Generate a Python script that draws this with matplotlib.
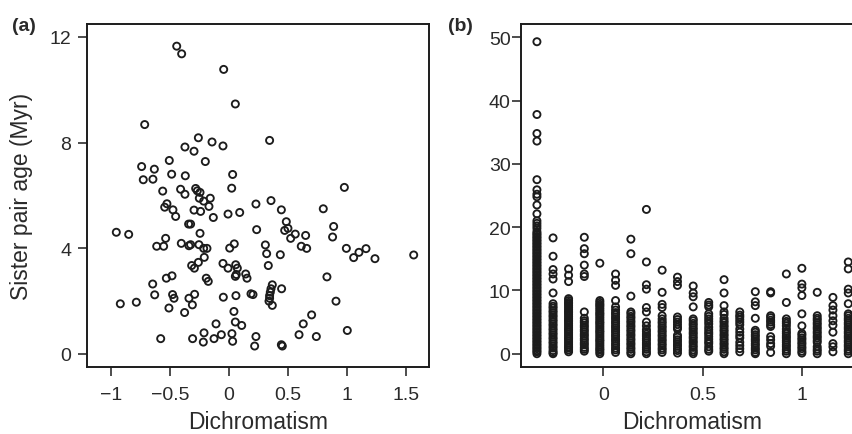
import matplotlib
matplotlib.use("Agg")
import matplotlib.pyplot as plt

plt.rcParams['font.family'] = ['Liberation Sans', 'DejaVu Sans']

# ---------------- Panel (a) data ----------------
a_x = [-0.444, -0.402, -0.045, 0.054, -0.716, -0.260, -0.144, -0.374, -0.051, -0.297,
       0.345, -0.201, -0.507, -0.742, -0.634, -0.728, -0.646, -0.487, -0.371, 0.031,
       0.023, -0.563, -0.411, -0.374, -0.283, -0.269, -0.246, -0.252, -0.159, -0.215,
       -0.170, -0.527, -0.546, -0.476, -0.453, -0.297, -0.241, -0.133, -0.008, 0.091,
       0.229, 0.357, 0.445, 0.487, 0.501, 0.473, 0.563, 0.524, 0.651, 0.235,
       0.980, 0.801, 0.889, 0.880, -0.957, -0.852, -0.538, -0.614, -0.555, -0.405,
       -0.340, -0.326, -0.255, -0.246, -0.343, -0.326, -0.215, -0.187, -0.210, 0.045,
       0.006, 0.309, 0.320, 0.436, 0.614, 0.660, 0.997, 1.059, 1.104, 1.164,
       1.240, 1.569, -0.260, -0.317, -0.294, -0.051, -0.008, 0.057, 0.071, 0.062,
       0.054, 0.142, 0.153, 0.334, 0.832, -0.532, -0.484, -0.193, -0.176, -0.648,
       -0.631, -0.479, -0.467, -0.292, -0.340, -0.311, -0.510, -0.377, -0.923, -0.787,
       -0.048, 0.059, 0.187, 0.204, 0.368, 0.357, 0.351, 0.345, 0.345, 0.340,
       0.368, 0.447, 0.909, 0.042, 0.702, -0.110, 0.054, 0.108, 0.631, 1.005,
       -0.212, -0.218, -0.309, -0.580, -0.127, -0.065, 0.025, 0.031, 0.229, 0.218,
       0.445, 0.453, 0.595, 0.742]
a_y = [11.65, 11.36, 10.77, 9.46, 8.68, 8.18, 8.02, 7.83, 7.87, 7.67,
       8.08, 7.28, 7.32, 7.09, 6.99, 6.59, 6.61, 6.80, 6.74, 6.79,
       6.27, 6.16, 6.23, 6.04, 6.26, 6.17, 6.11, 5.89, 5.89, 5.78,
       5.58, 5.68, 5.55, 5.45, 5.20, 5.44, 5.39, 5.16, 5.29, 5.35,
       5.67, 5.80, 5.45, 5.00, 4.75, 4.67, 4.53, 4.37, 4.48, 4.70,
       6.30, 5.49, 4.82, 4.42, 4.60, 4.52, 4.37, 4.07, 4.07, 4.18,
       4.09, 4.13, 4.13, 4.56, 4.91, 4.91, 3.99, 3.99, 3.65, 4.16,
       4.00, 4.12, 3.79, 3.75, 4.07, 3.99, 3.99, 3.64, 3.84, 3.98,
       3.60, 3.74, 3.46, 3.34, 3.24, 3.42, 3.24, 3.37, 3.24, 3.00,
       2.93, 3.02, 2.86, 3.34, 2.91, 2.86, 2.95, 2.86, 2.74, 2.64,
       2.23, 2.24, 2.10, 2.25, 2.10, 1.85, 1.73, 1.56, 1.89, 1.95,
       2.14, 2.20, 2.27, 2.24, 2.61, 2.46, 2.33, 2.20, 2.10, 1.99,
       1.83, 2.46, 1.99, 1.60, 1.47, 1.13, 1.20, 1.07, 1.13, 0.88,
       0.79, 0.44, 0.57, 0.57, 0.57, 0.72, 0.76, 0.47, 0.65, 0.29,
       0.34, 0.29, 0.72, 0.65]

# ---------------- Panel (b) data ----------------
b_cols = [-0.333, -0.252, -0.174, -0.095, -0.017, 0.062, 0.139, 0.217, 0.296, 0.373,
          0.452, 0.530, 0.607, 0.686, 0.764, 0.841, 0.920, 0.998, 1.075, 1.154, 1.231]
b_col01 = [49.3, 37.8, 34.8, 33.6, 27.5, 25.9, 25.2, 24.8, 23.5, 22.1, 21.0, 20.6,
           20.2, 19.8,
           19.3, 19.0, 18.8, 18.5, 18.3, 18.0, 17.8, 17.5, 17.3, 17.0, 16.8, 16.5,
           16.3, 16.0, 15.8, 15.5, 15.3, 15.0, 14.8, 14.5, 14.3, 14.0, 13.8, 13.5,
           13.3, 13.0, 12.8, 12.5, 12.3, 12.0, 11.8, 11.5, 11.3, 11.0, 10.8, 10.5,
           10.3, 10.0, 9.8, 9.5, 9.3, 9.0, 8.8, 8.5, 8.3, 8.0, 7.8, 7.5, 7.3, 7.0,
           6.8, 6.5, 6.3, 6.0, 5.8, 5.5, 5.3, 5.0, 4.8, 4.5, 4.3, 4.0, 3.8, 3.5,
           3.3, 3.0, 2.8, 2.5, 2.3, 2.0, 1.8, 1.5, 1.3, 1.0, 0.8, 0.5, 0.3, 0.0]
b_col02 = [18.3, 15.4, 13.3, 12.6, 11.8, 9.6,
           7.9, 7.5, 7.2, 6.8, 6.5, 6.1, 5.8, 5.4, 5.1, 4.7, 4.4, 4.0, 3.7, 3.3,
           3.0, 2.6, 2.3, 1.9, 1.6, 1.2, 0.9, 0.5, 0.2, 0.0]
b_col03 = [13.4, 12.4, 11.4,
           8.7, 8.4, 8.1, 7.9, 7.6, 7.3, 7.0, 6.7, 6.5, 6.2, 5.9, 5.6, 5.3, 5.1,
           4.8, 4.5, 4.2, 3.9, 3.7, 3.4, 3.1, 2.8, 2.5, 2.3, 2.0, 1.7, 1.4, 1.1,
           0.9, 0.6, 0.3]
b_col04 = [18.4, 16.6, 15.8, 14.0, 12.6, 12.2, 6.6,
           5.6, 5.2, 4.9, 4.5, 4.2, 3.8, 3.5, 3.1, 2.8, 2.4, 2.1, 1.7, 1.4, 1.0,
           0.7, 0.4]
b_col05 = [14.3,
           8.4, 8.1, 7.8, 7.6, 7.3, 7.0, 6.7, 6.4, 6.2, 5.9, 5.6, 5.3, 5.0, 4.8,
           4.5, 4.2, 3.9, 3.6, 3.4, 3.1, 2.8, 2.5, 2.2, 2.0, 1.7, 1.4, 1.1, 0.8,
           0.6, 0.3, 0.0]
b_col06 = [12.6, 11.6, 10.8, 8.4, 7.4,
           6.9, 6.5, 6.2, 5.8, 5.5, 5.1, 4.8, 4.4, 4.1, 3.7, 3.4, 3.0, 2.7, 2.3,
           2.0, 1.6, 1.3, 0.9, 0.6, 0.2]
b_col07 = [18.1, 15.8, 9.1,
           6.6, 6.3, 5.9, 5.6, 5.2, 4.9, 4.5, 4.2, 3.8, 3.5, 3.1, 2.8, 2.4, 2.1,
           1.7, 1.4, 1.0, 0.7, 0.3, 0.0]
b_col08 = [22.8, 14.5, 10.9, 10.2, 7.3, 6.6, 5.0,
           4.4, 3.8, 3.5, 3.1, 2.8, 2.4, 2.1, 1.7, 1.4, 1.0, 0.7, 0.3, 0.0]
b_col09 = [13.2, 9.7, 7.8, 7.3, 6.0,
           5.5, 5.1, 4.8, 4.4, 4.1, 3.7, 3.4, 3.0, 2.7, 2.3, 2.0, 1.6, 1.3, 0.9,
           0.6, 0.2]
b_col10 = [12.1, 11.4, 10.8, 5.8, 5.4, 5.0, 4.6, 4.2, 3.9,
           2.9, 2.6, 2.2, 1.9, 1.5, 1.2, 0.8, 0.5, 0.1]
b_col11 = [10.7, 9.6, 9.0, 7.4,
           5.5, 5.2, 4.8, 4.5, 4.1, 3.8, 3.4, 3.1, 2.7, 2.4, 2.0, 1.7, 1.3, 1.0,
           0.6, 0.3, 0.0]
b_col12 = [8.1, 7.7, 7.4, 6.3, 5.9, 5.5, 5.1, 4.7, 4.2, 3.8, 3.4, 3.1, 2.7, 2.3,
           1.9, 1.6, 1.1, 0.7, 0.4]
b_col13 = [11.7, 9.6, 7.6, 6.6, 6.2,
           5.6, 5.2, 4.9, 4.5, 4.2, 3.8, 3.5, 3.1, 2.8, 2.4, 2.1, 1.7, 1.4, 1.0,
           0.7, 0.3, 0.0]
b_col14 = [6.6, 6.1, 5.8, 5.4, 5.0, 4.6, 3.9, 3.4, 2.9, 2.5, 1.8, 1.3, 0.8, 0.3]
b_col15 = [9.8, 8.2, 7.6, 5.6,
           3.7, 3.4, 3.0, 2.7, 2.3, 2.0, 1.6, 1.3, 0.9, 0.6, 0.2, 0.0]
b_col16 = [9.8, 9.6, 6.0, 5.7, 5.3, 5.0, 4.6, 4.3, 2.7, 2.2, 1.6, 1.2, 0.2]
b_col17 = [12.6, 8.1,
           5.5, 5.1, 4.8, 4.4, 3.9, 3.5, 3.2, 2.8, 2.5, 2.1, 1.8, 1.4, 1.1, 0.7,
           0.4, 0.0]
b_col18 = [13.5, 11.0, 10.4, 9.2, 6.3, 4.4,
           3.2, 2.9, 2.5, 2.2, 1.8, 1.5, 1.1, 0.8, 0.4, 0.1]
b_col19 = [9.7,
           6.0, 5.6, 5.3, 4.9, 4.6, 4.2, 3.9, 3.5, 3.2, 2.8, 2.5, 2.1, 1.8, 1.1,
           0.7, 0.4, 0.0]
b_col20 = [8.9, 7.6, 6.9, 6.0, 5.2, 4.5, 3.4, 1.6, 1.1, 0.3]
b_col21 = [14.5, 13.4, 10.2, 9.6, 7.9,
           6.3, 6.0, 5.6, 5.3, 4.9, 4.6, 4.2, 3.9, 3.5, 3.2, 2.8, 2.5, 2.1, 1.8,
           1.4, 1.1, 0.7, 0.4, 0.0]
b_values = [b_col01, b_col02, b_col03, b_col04, b_col05, b_col06, b_col07, b_col08,
            b_col09, b_col10, b_col11, b_col12, b_col13, b_col14, b_col15, b_col16,
            b_col17, b_col18, b_col19, b_col20, b_col21]

a_xticks = [-1, -0.5, 0, 0.5, 1, 1.5]
a_xticklabels = ['\u22121', '\u22120.5', '0', '0.5', '1', '1.5']
a_yticks = [0, 4, 8, 12]
b_xticks = [0, 0.5, 1]
b_xticklabels = ['0', '0.5', '1']
b_yticks = [0, 10, 20, 30, 40, 50]

# ---------------- Figure ----------------
W, H = 853, 435
fig = plt.figure(figsize=(W / 100, H / 100), dpi=100)
ink = '#1c1c1c'
txt = '#2a2a2a'


def px_axes(left, top, right, bottom):
    return fig.add_axes([left / W, 1 - bottom / H, (right - left) / W, (bottom - top) / H])


axa = px_axes(87, 25, 429, 368)
axb = px_axes(521, 25, 863, 368)

mk = dict(s=26, facecolors='none', edgecolors=ink, linewidths=1.35, clip_on=False)

axa.scatter(a_x, a_y, **mk)
bx, by = [], []
for xc, vals in zip(b_cols, b_values):
    bx += [xc] * len(vals)
    by += vals
axb.scatter(bx, by, **mk)

axa.set_xlim(-1.206, 1.699)
axa.set_ylim(-0.504, 12.49)
axb.set_xlim(-0.413, 1.305)
axb.set_ylim(-2.1, 52.1)

axa.set_xticks(a_xticks)
axa.set_xticklabels(a_xticklabels)
axa.set_yticks(a_yticks)
axb.set_xticks(b_xticks)
axb.set_xticklabels(b_xticklabels)
axb.set_yticks(b_yticks)

for ax in (axa, axb):
    for sp in ax.spines.values():
        sp.set_linewidth(1.4)
        sp.set_color(ink)
    ax.tick_params(axis='both', direction='out', length=6.5, width=1.1, color=ink,
                   labelsize=14, labelcolor=txt)
    ax.tick_params(axis='x', pad=7)
    ax.set_xlabel('Dichromatism', fontsize=16.5, color=txt)
    ax.xaxis.set_label_coords(0.5, -(423 - 368) / 343)
    ax.xaxis.label.set_va('center')

axa.tick_params(axis='y', pad=5)
axb.tick_params(axis='y', pad=1)
axa.set_ylabel('Sister pair age (Myr)', fontsize=16.5, color=txt)
axa.yaxis.set_label_coords(-(87 - 22) / 342, 0.5)
axa.yaxis.label.set_va('center')

fig.text(12 / W, 1 - 18 / H, '(a)', fontsize=14, fontweight='bold', color=txt,
         ha='left', va='top')
fig.text(448 / W, 1 - 18 / H, '(b)', fontsize=14, fontweight='bold', color=txt,
         ha='left', va='top')

fig.savefig('out.png', dpi=100)
